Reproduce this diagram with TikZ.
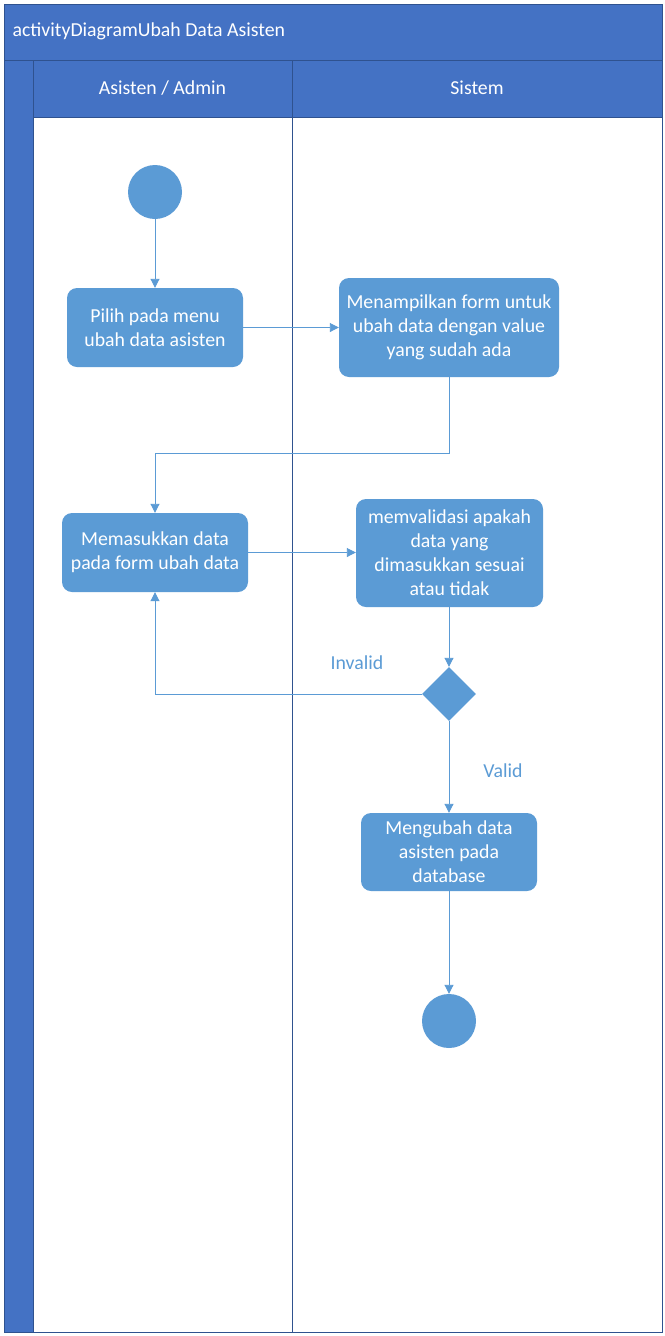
\documentclass[tikz,border=0pt]{standalone}
\usepackage{fontspec}
\setmainfont{Carlito}
\usepackage{tikz}
\usetikzlibrary{arrows.meta,shapes.geometric}

\definecolor{laneblue}{HTML}{4472C4}
\definecolor{lineblue}{HTML}{2F528F}
\definecolor{actblue}{HTML}{5B9BD5}

\begin{document}
\begin{tikzpicture}[x=1pt, y=-1pt,
		act_style/.style={rectangle,rounded corners=10pt,fill=actblue,text=white,align=center,
			font=\fontsize{19.8}{24}\selectfont,inner sep=0pt},
		dot_style/.style={circle,fill=actblue,minimum size=54pt,inner sep=0pt},
		choice_style/.style={diamond,fill=actblue,minimum size=54pt,inner sep=0pt},
		edge_style/.style={draw=actblue,line width=0.9pt,-{Triangle[length=9pt,width=9pt]}},
		lbl_style/.style={text=actblue,font=\fontsize{19.8}{24}\selectfont},
		head_style/.style={text=white,font=\fontsize{19.8}{24}\selectfont}]

		\useasboundingbox (0,0) rectangle (664,1336);

		% frame and lanes
		\fill[white] (4,4) rectangle (662,1332);
		\filldraw[fill=laneblue,draw=lineblue] (4,4) rectangle (662,60);
		\filldraw[fill=laneblue,draw=lineblue] (4,60) rectangle (33,1332);
		\filldraw[fill=laneblue,draw=lineblue] (33,60) rectangle (662,117);
		\draw[lineblue,line width=1pt] (292,60) -- (292,1332);
		\draw[lineblue,line width=1pt] (4,4) rectangle (662,1332);

		\node[head_style,anchor=west] (title) at (9,31) {activityDiagramUbah Data Asisten};
		\node[head_style] (lane1) at (162.5,88) {Asisten / Admin};
		\node[head_style] (lane2) at (477,88) {Sistem};

		% nodes
		\node[dot_style] (start) at (155,192) {};
		\node[act_style,minimum width=176pt,minimum height=79pt] (a1) at (155,327.5)
			{Pilih pada menu\\ubah data asisten};
		\node[act_style,minimum width=220pt,minimum height=99pt] (s1) at (449,327.5)
			{Menampilkan form untuk\\ubah data dengan value\\yang sudah ada};
		\node[act_style,minimum width=186pt,minimum height=79pt] (a2) at (155,552.5)
			{Memasukkan data\\pada form ubah data};
		\node[act_style,minimum width=187pt,minimum height=108pt] (s2) at (449.5,553)
			{memvalidasi apakah\\data yang\\dimasukkan sesuai\\atau tidak};
		\node[choice_style] (d1) at (449,694) {};
		\node[act_style,minimum width=176pt,minimum height=78pt] (s3) at (449,852)
			{Mengubah data\\asisten pada\\database};
		\node[dot_style] (stop) at (449,1021) {};

		\coordinate (k1) at (449,453);
		\coordinate (k2) at (155,453);
		\coordinate (k3) at (155,694);

		% edges
		\draw[edge_style] (start) -- (a1);
		\draw[edge_style] (a1) -- (s1);
		\draw[edge_style] (s1.south -| k1) -- (k1) -- (k2) -- (a2);
		\draw[edge_style] (a2) -- (s2.west |- a2);
		\draw[edge_style] (s2.south -| d1) -- (d1);
		\draw[edge_style] (d1.west) -- (k3) -- (a2);
		\draw[edge_style] (d1) -- (s3);
		\draw[edge_style] (s3) -- (stop);

		\node[lbl_style] (invalid) at (357,663) {Invalid};
		\node[lbl_style] (valid) at (503,771) {Valid};

\end{tikzpicture}
\end{document}
